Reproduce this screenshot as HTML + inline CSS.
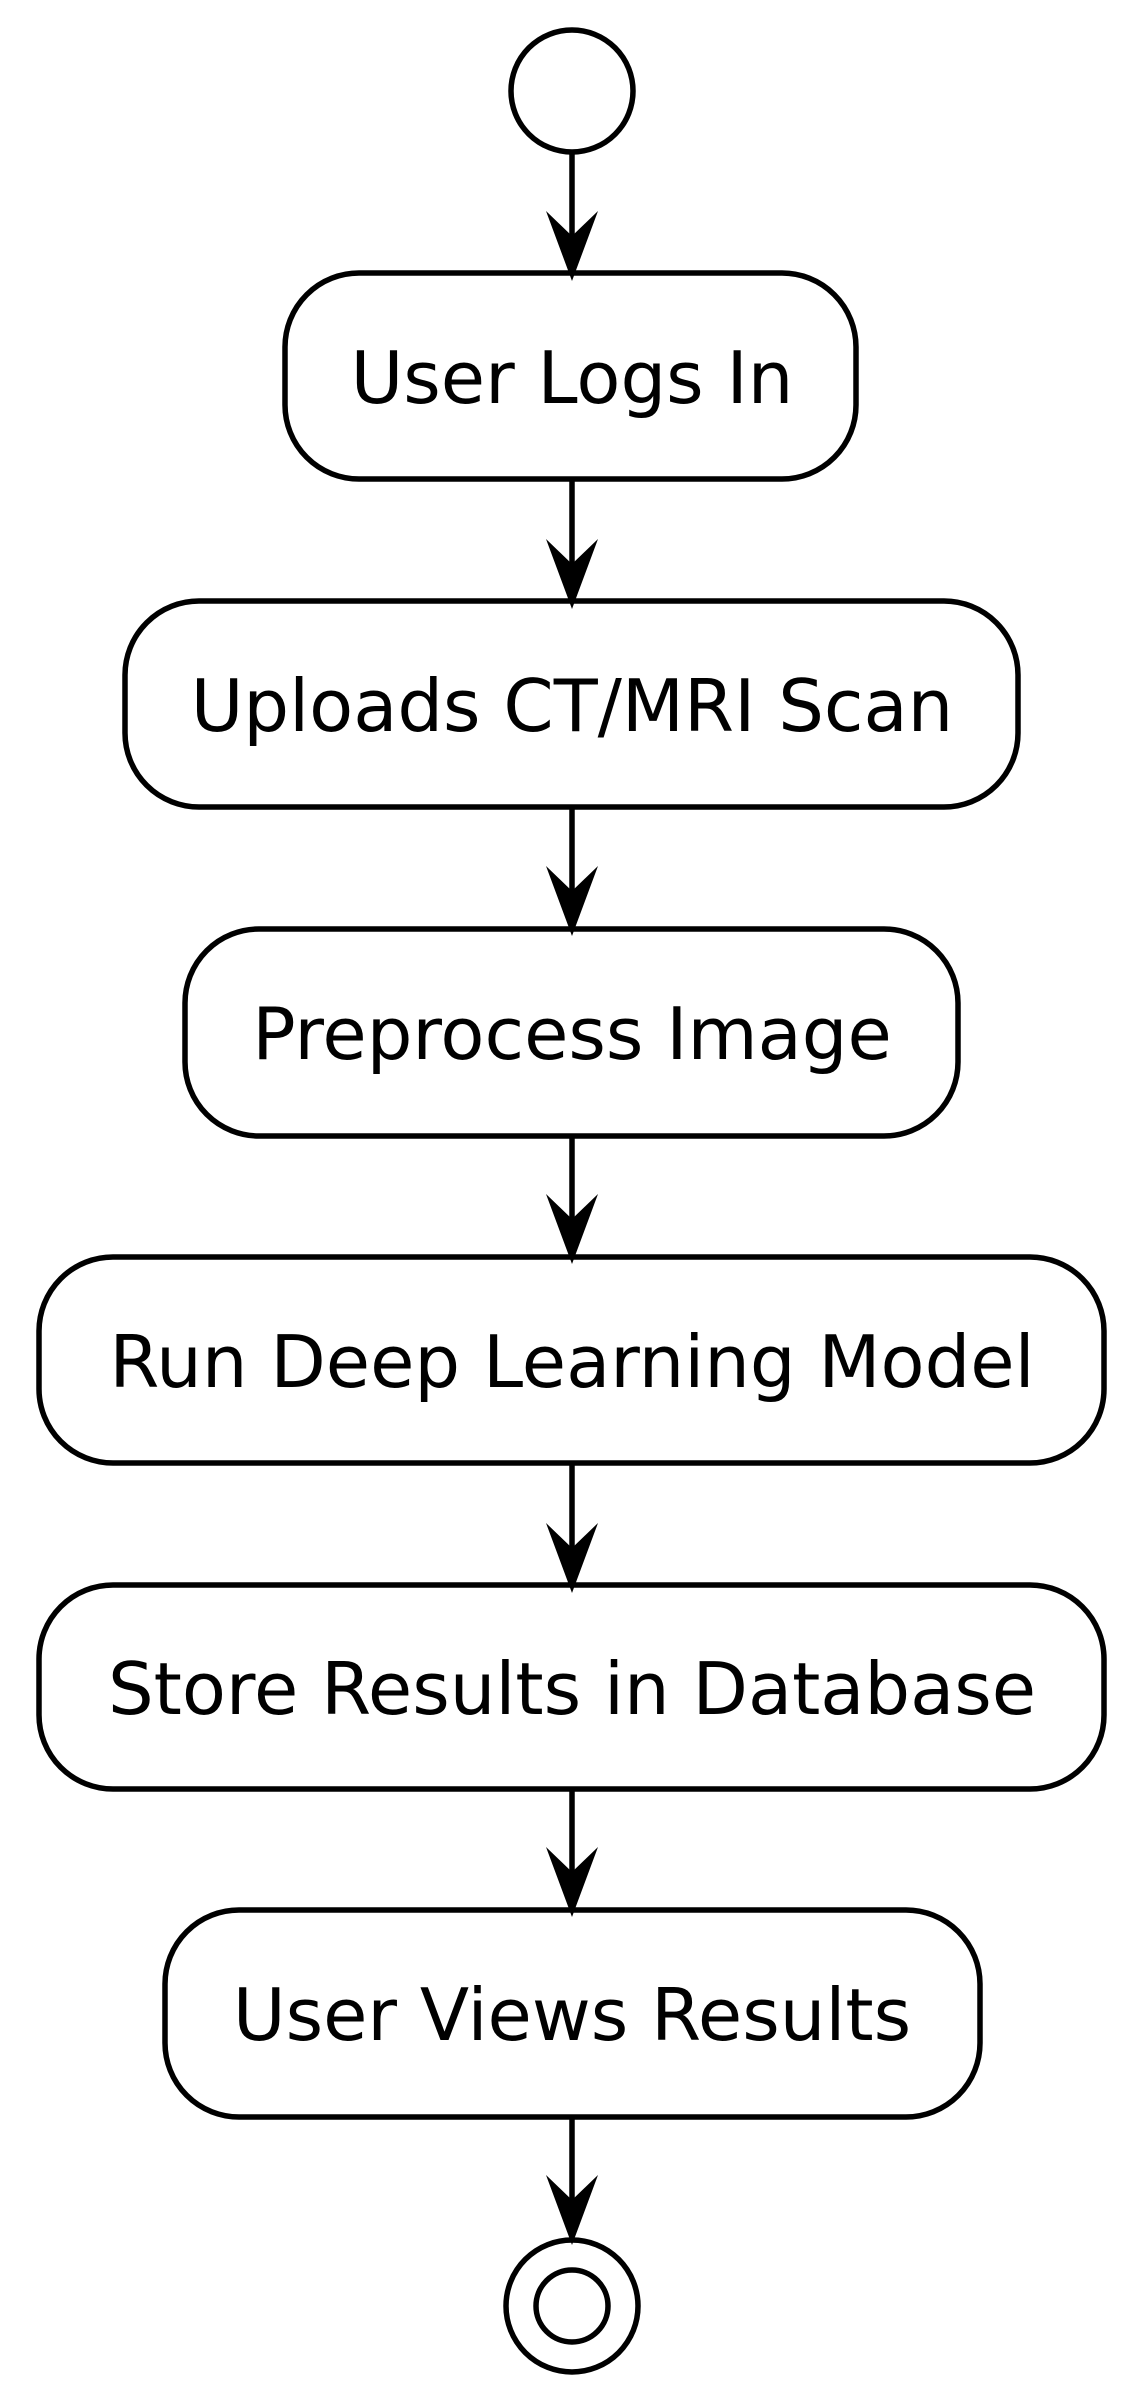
<!DOCTYPE html>
<html><head><meta charset="utf-8"><style>html,body{margin:0;padding:0;background:#fff}svg{display:block}</style></head>
<body>
<svg width="1133" height="2400" viewBox="0 0 1133 2400" xmlns="http://www.w3.org/2000/svg">
<g fill="none" stroke="#000" stroke-width="5.5">
<circle cx="572" cy="91" r="61"/>
<rect x="285" y="273" width="571" height="206" rx="74"/>
<rect x="125" y="601" width="893" height="206" rx="74"/>
<rect x="185" y="929" width="773" height="207" rx="74"/>
<rect x="39" y="1257" width="1065" height="206" rx="74"/>
<rect x="39" y="1585" width="1065" height="204" rx="74"/>
<rect x="165" y="1910" width="815" height="207" rx="74"/>
<circle cx="572" cy="2306" r="66"/>
<circle cx="572" cy="2306" r="36"/>
<line x1="572" y1="152" x2="572" y2="265"/>
<line x1="572" y1="479" x2="572" y2="594"/>
<line x1="572" y1="807" x2="572" y2="921"/>
<line x1="572" y1="1136" x2="572" y2="1249"/>
<line x1="572" y1="1463" x2="572" y2="1578"/>
<line x1="572" y1="1789" x2="572" y2="1902"/>
<line x1="572" y1="2117" x2="572" y2="2232"/>
</g>
<g fill="#000">
<path d="M546,211 L572,236 L598,211 L572,281 Z"/>
<path d="M546,539 L572,564 L598,539 L572,609 Z"/>
<path d="M546,866 L572,891 L598,866 L572,936 Z"/>
<path d="M546,1194 L572,1219 L598,1194 L572,1264 Z"/>
<path d="M546,1523 L572,1548 L598,1523 L572,1593 Z"/>
<path d="M546,1847 L572,1872 L598,1847 L572,1917 Z"/>
<path d="M546,2175 L572,2200 L598,2175 L572,2245 Z"/>
</g>
<g font-family="'DejaVu Sans', 'Liberation Sans', sans-serif" font-size="72" text-anchor="middle" fill="#000">
<text x="572" y="403">User Logs In</text>
<text x="572" y="731">Uploads CT/MRI Scan</text>
<text x="572" y="1059">Preprocess Image</text>
<text x="572" y="1387">Run Deep Learning Model</text>
<text x="572" y="1714">Store Results in Database</text>
<text x="572" y="2040">User Views Results</text>
</g>
</svg>
</body></html>
